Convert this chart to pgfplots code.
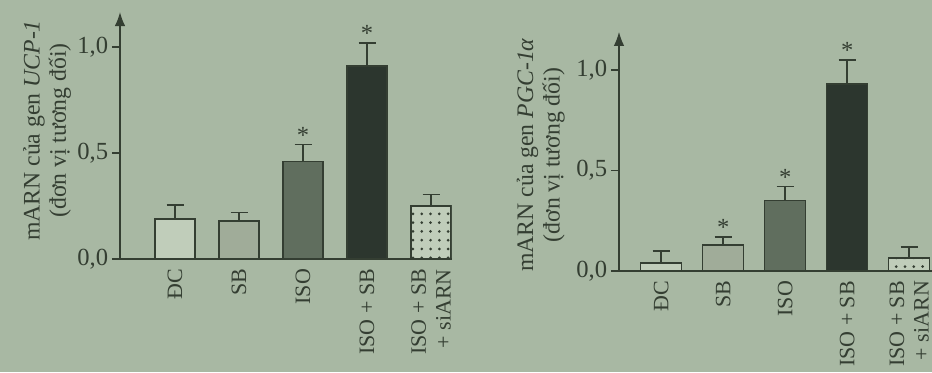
\documentclass[border=0pt]{standalone}
\usepackage{pgfplots}
\pgfplotsset{compat=1.18}
\usepackage{fontspec}
\setmainfont{Liberation Serif}
\usetikzlibrary{patterns.meta,arrows.meta}
\definecolor{bg}{RGB}{168,184,163}
\definecolor{ink}{RGB}{52,62,50}
\definecolor{cwhite}{RGB}{192,205,186}
\definecolor{csb}{RGB}{160,172,153}
\definecolor{ciso}{RGB}{96,110,94}
\definecolor{cdark}{RGB}{44,54,46}
\newcommand{\myfont}{\fontsize{12.5}{14}\selectfont}
\newcommand{\ytfont}{\fontsize{14}{16}\selectfont}
\newcommand{\ylfont}{\fontsize{13.5}{15}\selectfont}
\pgfplotsset{
  myax/.style={
    font=\myfont,
    axis x line*=bottom, axis y line*=left,
    axis line style={line width=0.9pt, draw=ink},
    x axis line style={-},
    y axis line style={-{Latex[length=8pt,width=6pt]}},
    ymin=0,
    ytick={0,0.5,1}, tick align=outside, major tick length=0.16cm,
    ytick style={line width=0.9pt, draw=ink},
    xtick={0,1,2,3,4}, xtick style={draw=none},
    xticklabels={ĐC,SB,ISO,ISO + SB,{ISO + SB\\+ siARN}},
    xticklabel style={font=\myfont, rotate=90, anchor=east, align=right, inner sep=1pt, text=ink},
    yticklabel style={font=\ytfont, text=ink, inner sep=2pt},
    /pgf/number format/fixed, /pgf/number format/fixed zerofill,
    /pgf/number format/precision=1, /pgf/number format/use comma,
    /pgf/number format/assume math mode=true,
    every axis y label/.style={rotate=90, anchor=center, align=center, text=ink, font=\ylfont},
    error bars/error bar style={line width=0.9pt, draw=ink},
    error bars/error mark options={rotate=90, mark size=0.17cm, line width=0.9pt, draw=ink},
  },
  mybar/.style={ybar, bar shift=0pt, draw=ink, line width=0.9pt, fill=#1,
    error bars/y dir=plus, error bars/y explicit},
  mystar/.style={draw=none, nodes near coords={*},
    nodes near coords style={anchor=south, inner sep=0.5pt, text=ink, font=\ytfont}},
}
\begin{document}
\begin{tikzpicture}
\fill[bg] (0,0) rectangle (18.64,7.44);
\useasboundingbox (0,0) rectangle (18.64,7.44);
% Left chart: UCP-1
\begin{axis}[myax, at={(2.4cm,2.26cm)}, anchor=south west,
  x=1.28cm, y=4.24cm, xmin=-0.86, xmax=4.32, ymax=1.165, bar width=0.8cm,
  ylabel={mARN của gen \textit{UCP-1}\\(đơn vị tương đối)},
  ylabel style={at={(axis description cs:-0.22,0.52)}}]
\addplot[mybar=cwhite] coordinates {(0,0.19) +- (0,0.065)};
\addplot[mybar=csb] coordinates {(1,0.18) +- (0,0.04)};
\addplot[mybar=ciso] coordinates {(2,0.46) +- (0,0.08)};
\addplot[mybar=cdark] coordinates {(3,0.91) +- (0,0.11)};
\addplot[mybar=cwhite, postaction={pattern={Dots[radius=0.85pt,distance=5pt]}, pattern color=ink}] coordinates {(4,0.25) +- (0,0.055)};
\addplot[mystar] coordinates {(2,0.54) (3,1.02)};
\end{axis}
% Right chart: PGC-1alpha
\begin{axis}[myax, at={(12.38cm,2.02cm)}, anchor=south west,
  x=1.24cm, y=4.02cm, xmin=-0.68, xmax=4.37, ymax=1.19, bar width=0.82cm,
  ylabel={mARN của gen \textit{PGC-1α}\\(đơn vị tương đối)},
  ylabel style={at={(axis description cs:-0.25,0.485)}}]
\addplot[mybar=cwhite] coordinates {(0,0.04) +- (0,0.06)};
\addplot[mybar=csb] coordinates {(1,0.13) +- (0,0.04)};
\addplot[mybar=ciso] coordinates {(2,0.35) +- (0,0.07)};
\addplot[mybar=cdark] coordinates {(3,0.93) +- (0,0.12)};
\addplot[mybar=cwhite, postaction={pattern={Dots[radius=0.85pt,distance=5pt]}, pattern color=ink}] coordinates {(4,0.065) +- (0,0.055)};
\addplot[mystar] coordinates {(1,0.17) (2,0.42) (3,1.05)};
\end{axis}
\end{tikzpicture}
\end{document}
